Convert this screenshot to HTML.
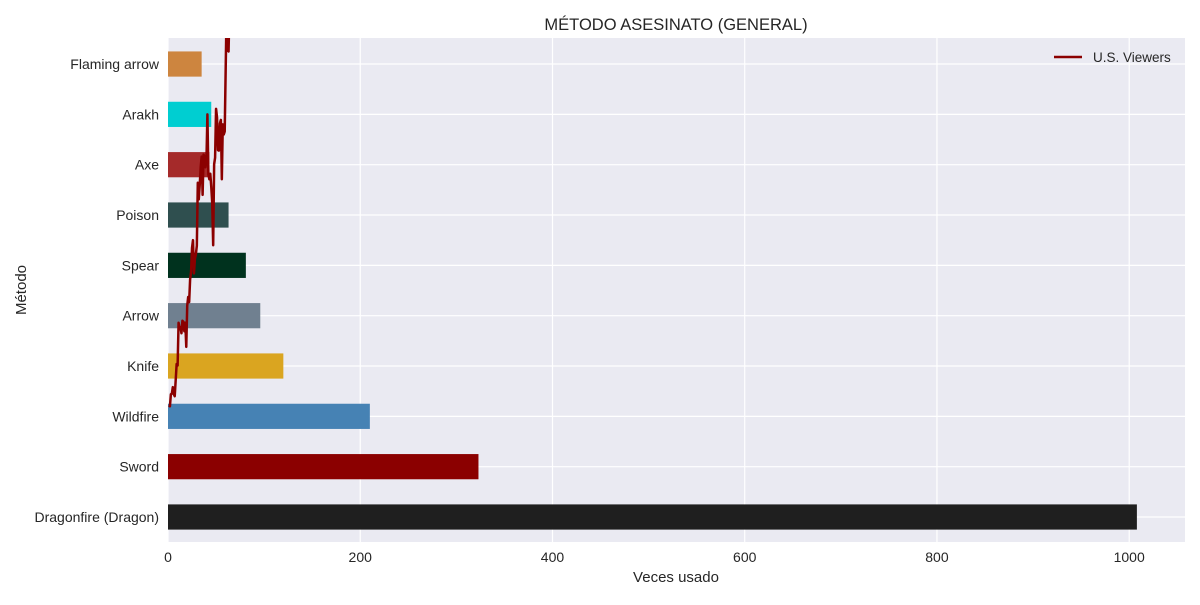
<!DOCTYPE html>
<html><head><meta charset="utf-8"><style>
body{margin:0;background:#fff;}
svg text{font-family:"Liberation Sans",Arial,sans-serif;fill:#262626;}
</style></head><body>
<svg id="chart" width="1200" height="600" xmlns="http://www.w3.org/2000/svg">
<rect x="168" y="38" width="1017" height="504" fill="#eaeaf2"/>
<defs><clipPath id="clip"><rect x="168" y="38" width="1017" height="504"/></clipPath></defs>
<g id="grid"></g>
<g id="bars"></g>
<g id="line" clip-path="url(#clip)"></g>
<g id="axes"></g>
<text x="676" y="30" font-size="16.5" text-anchor="middle">MÉTODO ASESINATO (GENERAL)</text>
<text x="676" y="582" font-size="15" text-anchor="middle">Veces usado</text>
<text x="26" y="290" font-size="15" text-anchor="middle" transform="rotate(-90 26 290)">Método</text>
<g>
<line x1="1054" y1="57" x2="1082" y2="57" stroke="#8b0000" stroke-width="2.5"/>
<text x="1093" y="62" font-size="13.5">U.S. Viewers</text>
</g>
</svg>
<script>
const categories=["Dragonfire (Dragon)","Sword","Wildfire","Knife","Arrow","Spear","Poison","Axe","Arakh","Flaming arrow"];
const counts=[1008,323,210,120,96,81,63,43,45,35];
const colors=["#1f1f1f","#8b0000","#4682b4","#daa520","#708090","#00321e","#2f4f4f","#a52a2a","#00ced1","#cd853f"];
const xTicks=[0,200,400,600,800,1000];
const viewers=[2.22,2.20,2.44,2.45,2.58,2.44,2.40,2.72,3.04,3.01,
3.86,3.76,3.77,3.65,3.90,3.88,3.69,3.86,3.38,4.20,
4.37,4.27,4.72,4.87,5.35,5.50,4.84,5.13,5.22,5.39,
6.64,6.31,6.59,6.95,7.16,6.40,7.20,7.17,6.95,7.09,
8.00,6.81,6.71,6.82,6.56,6.24,5.40,7.01,7.14,8.11,
7.94,7.29,7.28,7.82,7.89,6.71,7.80,7.60,7.66,8.89,
10.11,9.27,9.25,10.17,10.72,10.24,12.07,
11.76,10.29,11.80,12.48,12.02,13.61];
const NS="http://www.w3.org/2000/svg";
const x=v=>168+v*0.9612;
const y=i=>517-i*50.33;
function mk(tag,attrs,parent){const e=document.createElementNS(NS,tag);for(const k in attrs)e.setAttribute(k,attrs[k]);document.getElementById(parent).appendChild(e);return e;}
xTicks.forEach(t=>{
 const g=mk('line',{x1:x(t),x2:x(t),y1:38,y2:542,stroke:'#fff','stroke-width':1.2},'grid');
 
 
 const l=mk('text',{x:x(t),y:562,'font-size':14,'text-anchor':'middle'},'axes');l.textContent=t;
 
 
});
categories.forEach((c,i)=>{
 const g=mk('line',{x1:168,x2:1185,y1:y(i),y2:y(i),stroke:'#fff','stroke-width':1.2},'grid');
 
 
 const b=mk('rect',{x:168,y:y(i)-12.6,width:x(counts[i])-168,height:25.2,fill:colors[i]},'bars');
 
 
 const l=mk('text',{x:159,y:y(i)+5,'font-size':14,'text-anchor':'end'},'axes');l.textContent=c;
 
 
});
const pts=viewers.map((v,i)=>x(i+1)+','+y(v)).join(' ');
const pl=mk('polyline',{points:pts,fill:'none',stroke:'#8b0000','stroke-width':2.5,'stroke-linejoin':'round'},'line');


</script>
</body></html>
